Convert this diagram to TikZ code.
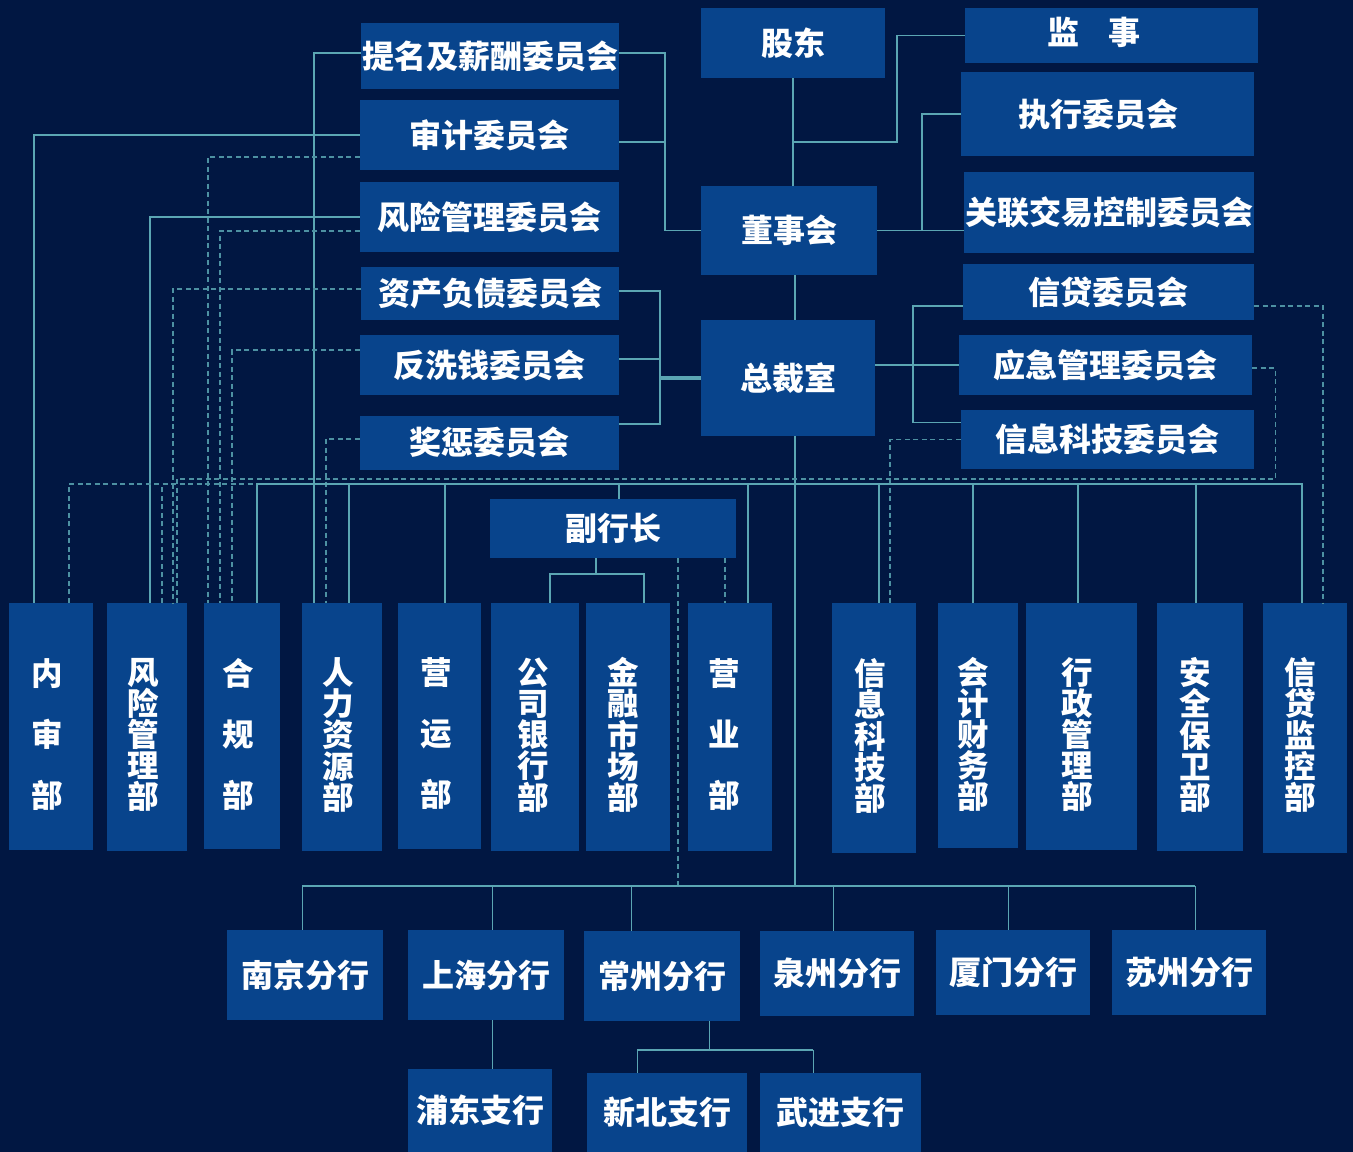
\documentclass[tikz,border=0pt]{standalone}
\usepackage{fontspec}
\setmainfont{Noto Sans CJK SC}
\usetikzlibrary{calc}
\definecolor{bgc}{HTML}{011742}
\definecolor{boxc}{HTML}{08448C}
\definecolor{linec}{HTML}{5BA6B3}
\newcommand{\upt}[1]{\raisebox{3.5pt}{#1}}
\begin{document}
\begin{tikzpicture}[x=1pt,y=-1pt,
  box/.style={fill=boxc, text=white, inner sep=0pt, font=\bfseries\fontsize{32}{32}\selectfont},
  dept/.style={fill=boxc, inner sep=0pt},
  dtxt/.style={text=white, inner sep=0pt, align=center, font=\bfseries\fontsize{31.5}{31.2}\selectfont},
  dtxw/.style={text=white, inner sep=0pt, align=center, font=\bfseries\fontsize{31.5}{61}\selectfont},
  sline/.style={draw=linec, line width=1.4pt},
  mline/.style={draw=linec, line width=2pt},
  tline/.style={draw=linec, line width=2.5pt},
  hline/.style={draw=linec, line width=3.4pt},
  fline/.style={draw=linec, line width=1pt},
  dline/.style={draw=linec!85!bgc, line width=1.2pt, dash pattern=on 5pt off 3.5pt},
]
\fill[bgc] (0,0) rectangle (1353,1152);

% ---- top-left committees
\node[box, minimum width=258pt, minimum height=66pt] (tm) at (490,56) {\upt{提名及薪酬委员会}};
\node[box, minimum width=259pt, minimum height=70pt] (sj) at (489.5,135) {\upt{审计委员会}};
\node[box, minimum width=259pt, minimum height=70pt] (fx) at (489.5,217) {\upt{风险管理委员会}};
\node[box, minimum width=258pt, minimum height=53pt] (zc) at (490,293.5) {\upt{资产负债委员会}};
\node[box, minimum width=259pt, minimum height=60pt] (fxq) at (489.5,365) {\upt{反洗钱委员会}};
\node[box, minimum width=259pt, minimum height=54pt] (jc) at (489.5,443) {\raisebox{5pt}{奖惩委员会}};

% ---- centre column
\node[box, minimum width=184pt, minimum height=70pt] (gd) at (793,43) {股东};
\node[box, minimum width=176pt, minimum height=89pt] (dsh) at (789,230.5) {董事会};
\node[box, minimum width=174pt, minimum height=116pt] (zcs) at (788,378) {总裁室};
\node[box, minimum width=246pt, minimum height=59pt] (fhz) at (613,528.5) {副行长};

% ---- right committees
\node[box, minimum width=293pt, minimum height=55pt,
  label={[box,fill=none,xshift=-18pt,yshift=3pt]center:{监\hspace{29pt}事}}] (js) at (1111.5,35.5) {};
\node[box, minimum width=293pt, minimum height=84pt] (zx) at (1107.5,114) {\hspace*{-18pt}执行委员会};
\node[box, minimum width=290pt, minimum height=81pt] (gl) at (1109,212.5) {\upt{关联交易控制委员会}};
\node[box, minimum width=291pt, minimum height=56pt] (xd) at (1108.5,292) {\upt{信贷委员会}};
\node[box, minimum width=293pt, minimum height=60pt] (yj) at (1105.5,365) {\upt{应急管理委员会}};
\node[box, minimum width=293pt, minimum height=59pt] (xk) at (1107.5,439.5) {\upt{信息科技委员会}};

% ---- departments
\node[dept, minimum width=84pt, minimum height=247pt, label={[dtxw,xshift=-4pt,yshift=-8pt]center:{内\\审\\部}}] (d1) at (51,726.5) {};
\node[dept, minimum width=80pt, minimum height=248pt, label={[dtxt,xshift=-4pt,yshift=-8pt]center:{风\\险\\管\\理\\部}}] (d2) at (147,727) {};
\node[dept, minimum width=76pt, minimum height=246pt, label={[dtxw,xshift=-4pt,yshift=-8pt]center:{合\\规\\部}}] (d3) at (242,726) {};
\node[dept, minimum width=80pt, minimum height=248pt, label={[dtxt,xshift=-4pt,yshift=-8pt]center:{人\\力\\资\\源\\部}}] (d4) at (342,727) {};
\node[dept, minimum width=83pt, minimum height=246pt, label={[dtxw,xshift=-3pt,yshift=-8pt]center:{营\\运\\部}}] (d5) at (439.5,726) {};
\node[dept, minimum width=88pt, minimum height=248pt, label={[dtxt,xshift=-2pt,yshift=-8pt]center:{公\\司\\银\\行\\部}}] (d6) at (535,727) {};
\node[dept, minimum width=84pt, minimum height=248pt, label={[dtxt,xshift=-5pt,yshift=-8pt]center:{金\\融\\市\\场\\部}}] (d7) at (628,727) {};
\node[dept, minimum width=84pt, minimum height=248pt, label={[dtxw,xshift=-6pt,yshift=-8pt]center:{营\\业\\部}}] (d8) at (730,727) {};
\node[dept, minimum width=84pt, minimum height=250pt, label={[dtxt,xshift=-4pt,yshift=-8pt]center:{信\\息\\科\\技\\部}}] (d9) at (874,728) {};
\node[dept, minimum width=80pt, minimum height=245pt, label={[dtxt,xshift=-5pt,yshift=-9pt]center:{会\\计\\财\\务\\部}}] (d10) at (978,725.5) {};
\node[dept, minimum width=111pt, minimum height=247pt, label={[dtxt,xshift=-4pt,yshift=-8pt]center:{行\\政\\管\\理\\部}}] (d11) at (1081.5,726.5) {};
\node[dept, minimum width=86pt, minimum height=248pt, label={[dtxt,xshift=-5pt,yshift=-8pt]center:{安\\全\\保\\卫\\部}}] (d12) at (1200,727) {};
\node[dept, minimum width=84pt, minimum height=250pt, label={[dtxt,xshift=-5pt,yshift=-7pt]center:{信\\贷\\监\\控\\部}}] (d13) at (1305,728) {};

% ---- branches
\node[box, minimum width=156pt, minimum height=90pt] (b1) at (305,975) {南京分行};
\node[box, minimum width=156pt, minimum height=90pt] (b2) at (486,975) {上海分行};
\node[box, minimum width=156pt, minimum height=90pt] (b3) at (662,976) {常州分行};
\node[box, minimum width=154pt, minimum height=85pt] (b4) at (837,973.5) {泉州分行};
\node[box, minimum width=154pt, minimum height=85pt] (b5) at (1013,972.5) {厦门分行};
\node[box, minimum width=154pt, minimum height=85pt] (b6) at (1189,972.5) {苏州分行};
\node[box, minimum width=144pt, minimum height=83pt] (s1) at (480,1110.5) {\raisebox{2pt}{浦东支行}};
\node[box, minimum width=160pt, minimum height=79pt] (s2) at (667,1112.5) {\raisebox{3pt}{新北支行}};
\node[box, minimum width=161pt, minimum height=79pt] (s3) at (840.5,1112.5) {\raisebox{3pt}{武进支行}};

% ---- helper coordinates
\coordinate (lt) at (665,0);
\coordinate (mt) at (660,0);
\coordinate (rt) at (913,0);
\coordinate (rt2) at (922,0);
\coordinate (db) at (0,484);
\coordinate (dbd) at (0,479);
\coordinate (fy) at (0,574);
\coordinate (bb) at (795,886);
\coordinate (sy) at (0,1050);
\coordinate (jsj) at (793,142);

% ---- top connectors
\draw[sline] (gd.south) -- (gd.south |- dsh.north);
\draw[sline] (js.west) -- ++(-68,0) |- (jsj);
\draw[sline] (dsh.east) -- (gl.west |- dsh.east);
\draw[sline] (dsh.east -| rt2) |- (zx.west);
\draw[sline] ([yshift=3pt]tm.east) -| (lt |- dsh.west) -- (dsh.west);
\draw[sline] ([yshift=-7pt]sj.east) -- ([yshift=-7pt]sj.east -| lt);
\draw[mline] ([xshift=6pt]dsh.south) -- ([xshift=7pt]zcs.north);
\draw[mline] ([xshift=7pt]zcs.south) -- (bb);

% president left / right
\draw[hline] (zcs.west) -- (zcs.west -| mt);
\draw[tline] ([yshift=2.5pt]zc.east) -| ([yshift=19pt]jc.east -| mt) -- ([yshift=19pt]jc.east);
\draw[tline] ([yshift=6pt]fxq.east) -- ([yshift=6pt]fxq.east -| mt);
\draw[sline] ([yshift=-14pt]xd.west) -| ([yshift=17pt]xk.west -| rt) -- ([yshift=17pt]xk.west);
\draw[sline] ([yshift=13pt]zcs.east) -- (yj.west);

% committees to departments (solid)
\draw[sline] ([yshift=3pt]tm.west) -| ([xshift=-28pt]d4.north);
\draw[sline] (sj.west) -| ([xshift=-17pt]d1.north);
\draw[sline] (fx.west) -| ([xshift=3pt]d2.north);

% committees to departments (dashed)
\draw[dline] ([yshift=-22pt]sj.west) -| ([xshift=-34pt]d3.north);
\draw[dline] ([yshift=-14pt]fx.west) -| ([xshift=-22pt]d3.north);
\draw[dline] ([yshift=4.5pt]zc.west) -| ([xshift=26pt]d2.north);
\draw[dline] ([yshift=15pt]fxq.west) -| ([xshift=-10pt]d3.north);
\draw[dline] ([yshift=4pt]jc.west) -| ([xshift=-16pt]d4.north);
\draw[dline] ([yshift=-14pt]xd.east) -| ([xshift=18pt]d13.north);
\draw[dline] ([yshift=-3pt]yj.east) -- ++(23,0) |- ([xshift=30pt]d2.north |- dbd) -- ([xshift=30pt]d2.north);
\draw[dline] (xk.west) -| ([xshift=16pt]d9.north);
\draw[dline] ([xshift=65pt]fhz.south) -- ([xshift=65pt]fhz.south |- bb);
\draw[dline] ([xshift=112pt]fhz.south) -- ([xshift=-5pt]d8.north);
\draw[dline] ([xshift=18pt]d1.north) |- ([xshift=23pt]d3.north |- db);
\draw[dline] ([xshift=15pt]d2.north) -- ([xshift=15pt]d2.north |- db);

% department bus
\draw[tline] ([xshift=15pt]d3.north) |- ([xshift=-3pt]d13.north |- db) -- ([xshift=-3pt]d13.north);
\foreach \n/\s in {d4/7,d5/5.5,d8/18,d9/5,d10/-5,d11/-3.5,d12/-4,fhz/6}
  \draw[mline] ([xshift=\s pt]\n.north) -- ([xshift=\s pt]\n.north |- db);

% vice president
\draw[tline] ([xshift=-17pt]fhz.south) -- ([xshift=-17pt]fhz.south |- fy);
\draw[tline] ([xshift=15pt]d6.north) |- ([xshift=16pt]d7.north |- fy) -- ([xshift=16pt]d7.north);

% branches
\draw[tline] ([xshift=-3pt]b1.north |- bb) -- ([xshift=6pt]b6.north |- bb);
\foreach \n/\s in {b1/-3,b2/6,b3/-31,b4/-4,b5/-5,b6/6}
  \draw[fline] ([xshift=\s pt]\n.north) -- ([xshift=\s pt]\n.north |- bb);
\draw[fline] ([xshift=6pt]b2.south) -- ([xshift=12pt]s1.north);
\draw[fline] ([xshift=47pt]b3.south) -- ([xshift=47pt]b3.south |- sy);
\draw[mline] ([xshift=-30pt]s2.north |- sy) -- ([xshift=-27.5pt]s3.north |- sy);
\draw[fline] ([xshift=-30pt]s2.north) -- ([xshift=-30pt]s2.north |- sy);
\draw[fline] ([xshift=-27.5pt]s3.north) -- ([xshift=-27.5pt]s3.north |- sy);
\end{tikzpicture}
\end{document}
